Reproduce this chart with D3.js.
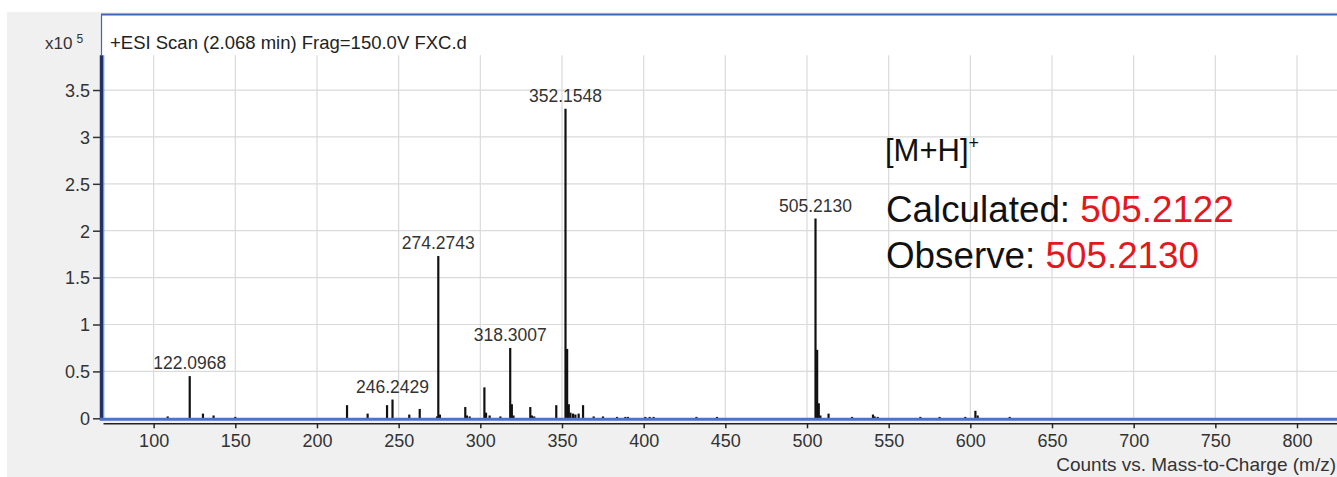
<!DOCTYPE html>
<html>
<head>
<meta charset="utf-8">
<script src="https://cdn.jsdelivr.net/npm/d3@7"></script>
<style>
  html, body { margin: 0; padding: 0; background: #ffffff; overflow: hidden; }
  svg { display: block; font-family: "Liberation Sans", Arial, sans-serif; }
</style>
</head>
<body>
<svg id="chart" width="1337" height="477"></svg>
<script>
// Mass spectrum: +ESI Scan (2.068 min) Frag=150.0V FXC.d
// m/z of each centroid peak
const peakMz = [108.6, 122.0968, 130.2, 136.7, 150.0, 218.4, 231.0, 242.9, 246.2429, 256.5, 262.9,
  273.5, 274.2743, 275.28, 290.8, 291.8, 293.5, 302.5, 303.5, 305.7, 312.3, 318.3007, 319.30, 320.3,
  330.6, 331.6, 333.0, 346.5, 352.1548, 353.158, 354.16, 355.2, 356.8, 358.2, 360.2, 362.9, 369.4,
  375.1, 383.7, 388.8, 390.4, 401.0, 403.7, 406.1, 432.3, 444.9, 505.2130, 506.216, 507.22, 508.2,
  513.2, 527.6, 540.4, 541.4, 543.3, 569.4, 581.2, 596.9, 603.1, 604.5, 624.1];
// intensity of each peak, in counts x10^5
const peakCounts = [0.02, 0.45, 0.05, 0.03, 0.015, 0.14, 0.05, 0.14, 0.20, 0.04, 0.10,
  0.02, 1.73, 0.04, 0.12, 0.03, 0.02, 0.33, 0.06, 0.03, 0.02, 0.75, 0.15, 0.03,
  0.12, 0.03, 0.02, 0.14, 3.30, 0.74, 0.15, 0.06, 0.05, 0.04, 0.05, 0.14, 0.02,
  0.02, 0.015, 0.015, 0.015, 0.015, 0.015, 0.015, 0.015, 0.015, 2.13, 0.73, 0.16, 0.03,
  0.05, 0.015, 0.04, 0.02, 0.015, 0.015, 0.015, 0.015, 0.08, 0.03, 0.015];
// peaks annotated with their accurate mass
const labeledMz = [122.0968, 246.2429, 274.2743, 318.3007, 352.1548, 505.2130];
const labelText = ["122.0968", "246.2429", "274.2743", "318.3007", "352.1548", "505.2130"];
// axis ticks
const xTicks = [100, 150, 200, 250, 300, 350, 400, 450, 500, 550, 600, 650, 700, 750, 800];
const yTicks = [0, 0.5, 1, 1.5, 2, 2.5, 3, 3.5];
const yTickLabels = ["0", "0.5", "1", "1.5", "2", "2.5", "3", "3.5"];

const svg = d3.select("#chart");
const W = 1337, H = 477;

const plotLeft = 103, plotTop = 15, plotBottom = 418.3;
const x = d3.scaleLinear().domain([69, 830]).range([plotLeft, plotLeft + 761 * 1.6334]);
const y = d3.scaleLinear().domain([0, 4.3]).range([plotBottom, plotTop]);
const gridTop = y(3.87);

// window background
svg.append("rect").attr("x", 7).attr("y", 12).attr("width", W - 7).attr("height", H - 12).attr("fill", "#f0f0f0");
// plot area
svg.append("rect").attr("x", plotLeft - 2).attr("y", plotTop - 1)
  .attr("width", W - plotLeft + 2).attr("height", plotBottom - plotTop + 1).attr("fill", "#ffffff");

// grid
const grid = svg.append("g");
grid.selectAll("line.v").data(xTicks).join("line")
  .attr("x1", d => x(d)).attr("x2", d => x(d))
  .attr("y1", gridTop).attr("y2", plotBottom)
  .attr("stroke", "#dadada").attr("stroke-width", 1.2);
grid.selectAll("line.h").data(yTicks.filter(d => d > 0)).join("line")
  .attr("x1", plotLeft).attr("x2", W)
  .attr("y1", d => y(d)).attr("y2", d => y(d))
  .attr("stroke", "#dadada").attr("stroke-width", 1.2);

// frame
svg.append("line").attr("x1", plotLeft - 2).attr("x2", W).attr("y1", plotTop - 0.5).attr("y2", plotTop - 0.5)
  .attr("stroke", "#3b67b8").attr("stroke-width", 2.2);
svg.append("line").attr("x1", plotLeft - 1.5).attr("x2", plotLeft - 1.5).attr("y1", plotTop).attr("y2", gridTop)
  .attr("stroke", "#3b67b8").attr("stroke-width", 1.2);

// peaks
const peaks = peakMz.map((m, i) => ({ m, v: peakCounts[i] }));
svg.append("g").selectAll("line").data(peaks).join("line")
  .attr("x1", d => x(d.m)).attr("x2", d => x(d.m))
  .attr("y1", plotBottom).attr("y2", d => y(d.v))
  .attr("stroke", "#111").attr("stroke-width", 2.2);

// peak labels
const labeled = labeledMz.map((m, i) => ({ m, t: labelText[i], v: peakCounts[peakMz.indexOf(m)] }));
svg.append("g").selectAll("text").data(labeled).join("text")
  .attr("x", d => x(d.m)).attr("y", d => y(d.v) - 7)
  .attr("text-anchor", "middle").attr("font-size", 17.5).attr("fill", "#333")
  .text(d => d.t);

// y axis
const yAxis = svg.append("g").attr("transform", `translate(${plotLeft - 2},0)`)
  .call(d3.axisLeft(y).tickValues(yTicks).tickSize(8).tickPadding(3)
    .tickFormat((d, i) => yTickLabels[i]));
yAxis.select(".domain").remove();
yAxis.selectAll(".tick line").attr("stroke", "#333").attr("stroke-width", 1.5);
yAxis.selectAll(".tick text").attr("font-size", 18).attr("fill", "#333")
  .attr("font-family", "Liberation Sans, Arial, sans-serif").attr("dy", "0.35em");
svg.append("line").attr("x1", plotLeft - 1.5).attr("x2", plotLeft - 1.5).attr("y1", gridTop).attr("y2", plotBottom + 2)
  .attr("stroke", "#1f3463").attr("stroke-width", 3.5);
svg.append("line").attr("x1", plotLeft + 0.8).attr("x2", plotLeft + 0.8).attr("y1", gridTop).attr("y2", plotBottom)
  .attr("stroke", "#5b84cc").attr("stroke-width", 1);

// x axis: blue baseline band plus the black scale line
svg.append("line").attr("x1", plotLeft - 3).attr("x2", W).attr("y1", plotBottom + 1).attr("y2", plotBottom + 1)
  .attr("stroke", "#4a74c4").attr("stroke-width", 3);
const xAxis = svg.append("g").attr("transform", `translate(0,${plotBottom + 5})`)
  .call(d3.axisBottom(x).tickValues(xTicks).tickSize(5).tickPadding(6).tickSizeOuter(0));
xAxis.select(".domain").attr("stroke", "#222").attr("stroke-width", 1.5);
xAxis.selectAll(".tick line").attr("stroke", "#222").attr("stroke-width", 1.5);
xAxis.selectAll(".tick text").attr("font-size", 18).attr("fill", "#333")
  .attr("font-family", "Liberation Sans, Arial, sans-serif");

// axis captions
svg.append("text").attr("x", W - 1).attr("y", 471).attr("text-anchor", "end")
  .attr("font-size", 19).attr("fill", "#333").text("Counts vs. Mass-to-Charge (m/z)");
const scale = svg.append("text").attr("x", 45).attr("y", 49).attr("font-size", 17).attr("fill", "#333");
scale.append("tspan").text("x10");
scale.append("tspan").attr("dx", 4).attr("dy", -6).attr("font-size", 12).text("5");
svg.append("text").attr("x", 110).attr("y", 49).attr("font-size", 18.5).attr("fill", "#222")
  .text("+ESI Scan (2.068 min) Frag=150.0V FXC.d");

// molecular ion annotation
const ion = svg.append("text").attr("x", 885).attr("y", 161).attr("font-size", 31).attr("fill", "#111");
ion.append("tspan").text("[M+H]");
ion.append("tspan").attr("dy", -12).attr("font-size", 18).text("+");
const calc = svg.append("text").attr("x", 886).attr("y", 222).attr("font-size", 36.8).attr("fill", "#111");
calc.append("tspan").text("Calculated: ");
calc.append("tspan").attr("fill", "#e5171d").text("505.2122");
const obs = svg.append("text").attr("x", 886).attr("y", 268).attr("font-size", 36.8).attr("fill", "#111");
obs.append("tspan").text("Observe: ");
obs.append("tspan").attr("fill", "#e5171d").text("505.2130");
</script>
</body>
</html>
